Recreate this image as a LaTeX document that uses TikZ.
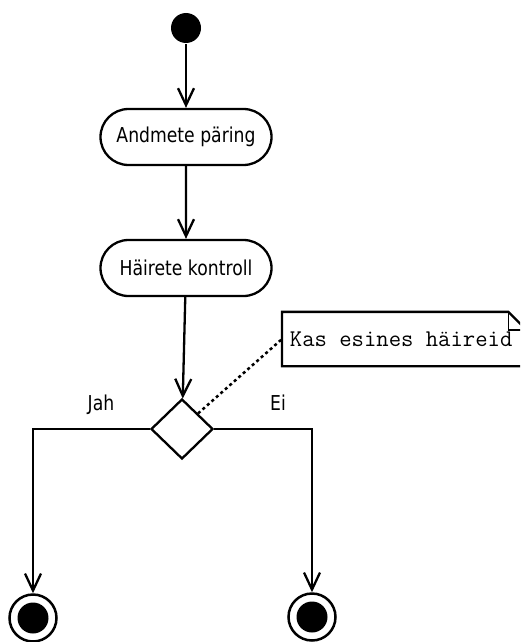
\documentclass[tikz,border=0pt]{standalone}
\usepackage{fontspec}
\setmainfont{DejaVu Sans}[FakeStretch=0.84]
\usetikzlibrary{arrows.meta, positioning, shapes.misc, shapes.geometric}

\begin{document}
\begin{tikzpicture}[x=1pt,y=-1pt,line width=2.3pt,->,>={Straight Barb[length=17pt,width=16pt]}]
    \tikzstyle{every node}=[font=\fontsize{20.5}{24}\selectfont]
    \tikzstyle{start state}=[circle,fill=black,minimum size=30pt,inner sep=0pt]
    \tikzstyle{activity}=[rounded rectangle,draw=black,minimum width=171pt,minimum height=56pt,inner sep=0pt]
    \tikzstyle{decision}=[diamond,draw=black,minimum width=62pt,minimum height=60pt,inner sep=0pt,aspect=1]
    \tikzstyle{end state}=[circle,draw=black,line width=2.5pt,minimum size=47pt,inner sep=0pt,
        path picture={\fill[black] (path picture bounding box.center) circle (15.5pt);}]
    \tikzstyle{annot}=[font=\ttfamily\fontsize{24}{28}\selectfont,inner sep=0pt,
        minimum width=242pt,minimum height=52pt,anchor=west]

    \useasboundingbox (0,0) rectangle (520,642);
    \clip (0,0) rectangle (520,642);

    % Draw the states and activities
    \node[start state] (S) at (186,28) {};
    \node[activity] (A-1) at (186,137) {Andmete päring};
    \node[activity] (A-2) at (186,268) {Häirete kontroll};
    \node[decision] (D) at (182,429) {};
    \node[end state] (E-1) at (33,618) {};
    \node[end state] (E-2) at (312,617) {};

    % Draw the note with its folded corner
    \node[annot] (N) at (282,339) {\hspace{-6pt}Kas esines häireid};
    \draw[-] (N.north west) -- ([xshift=-18pt]N.north east) -- ([yshift=-18pt]N.north east)
        -- (N.south east) -- (N.south west) -- cycle;
    \draw[-,line width=1.5pt] ([xshift=-18pt]N.north east) |- ([yshift=-18pt]N.north east);

    % Connect the flow
    \draw (S) -- (A-1);
    \draw (A-1) -- (A-2);
    \draw (A-2) -- (D);
    \draw (D.west) -| (E-1.north);
    \draw (D.east) -| (E-2.north);
    \draw[-,dash pattern=on 3pt off 3pt,line width=2.5pt] (D.north east) -- (N.west);

    % Branch labels
    \node (jah) at (101,405) {Jah};
    \node (ei) at (278,403) {Ei};
\end{tikzpicture}
\end{document}
